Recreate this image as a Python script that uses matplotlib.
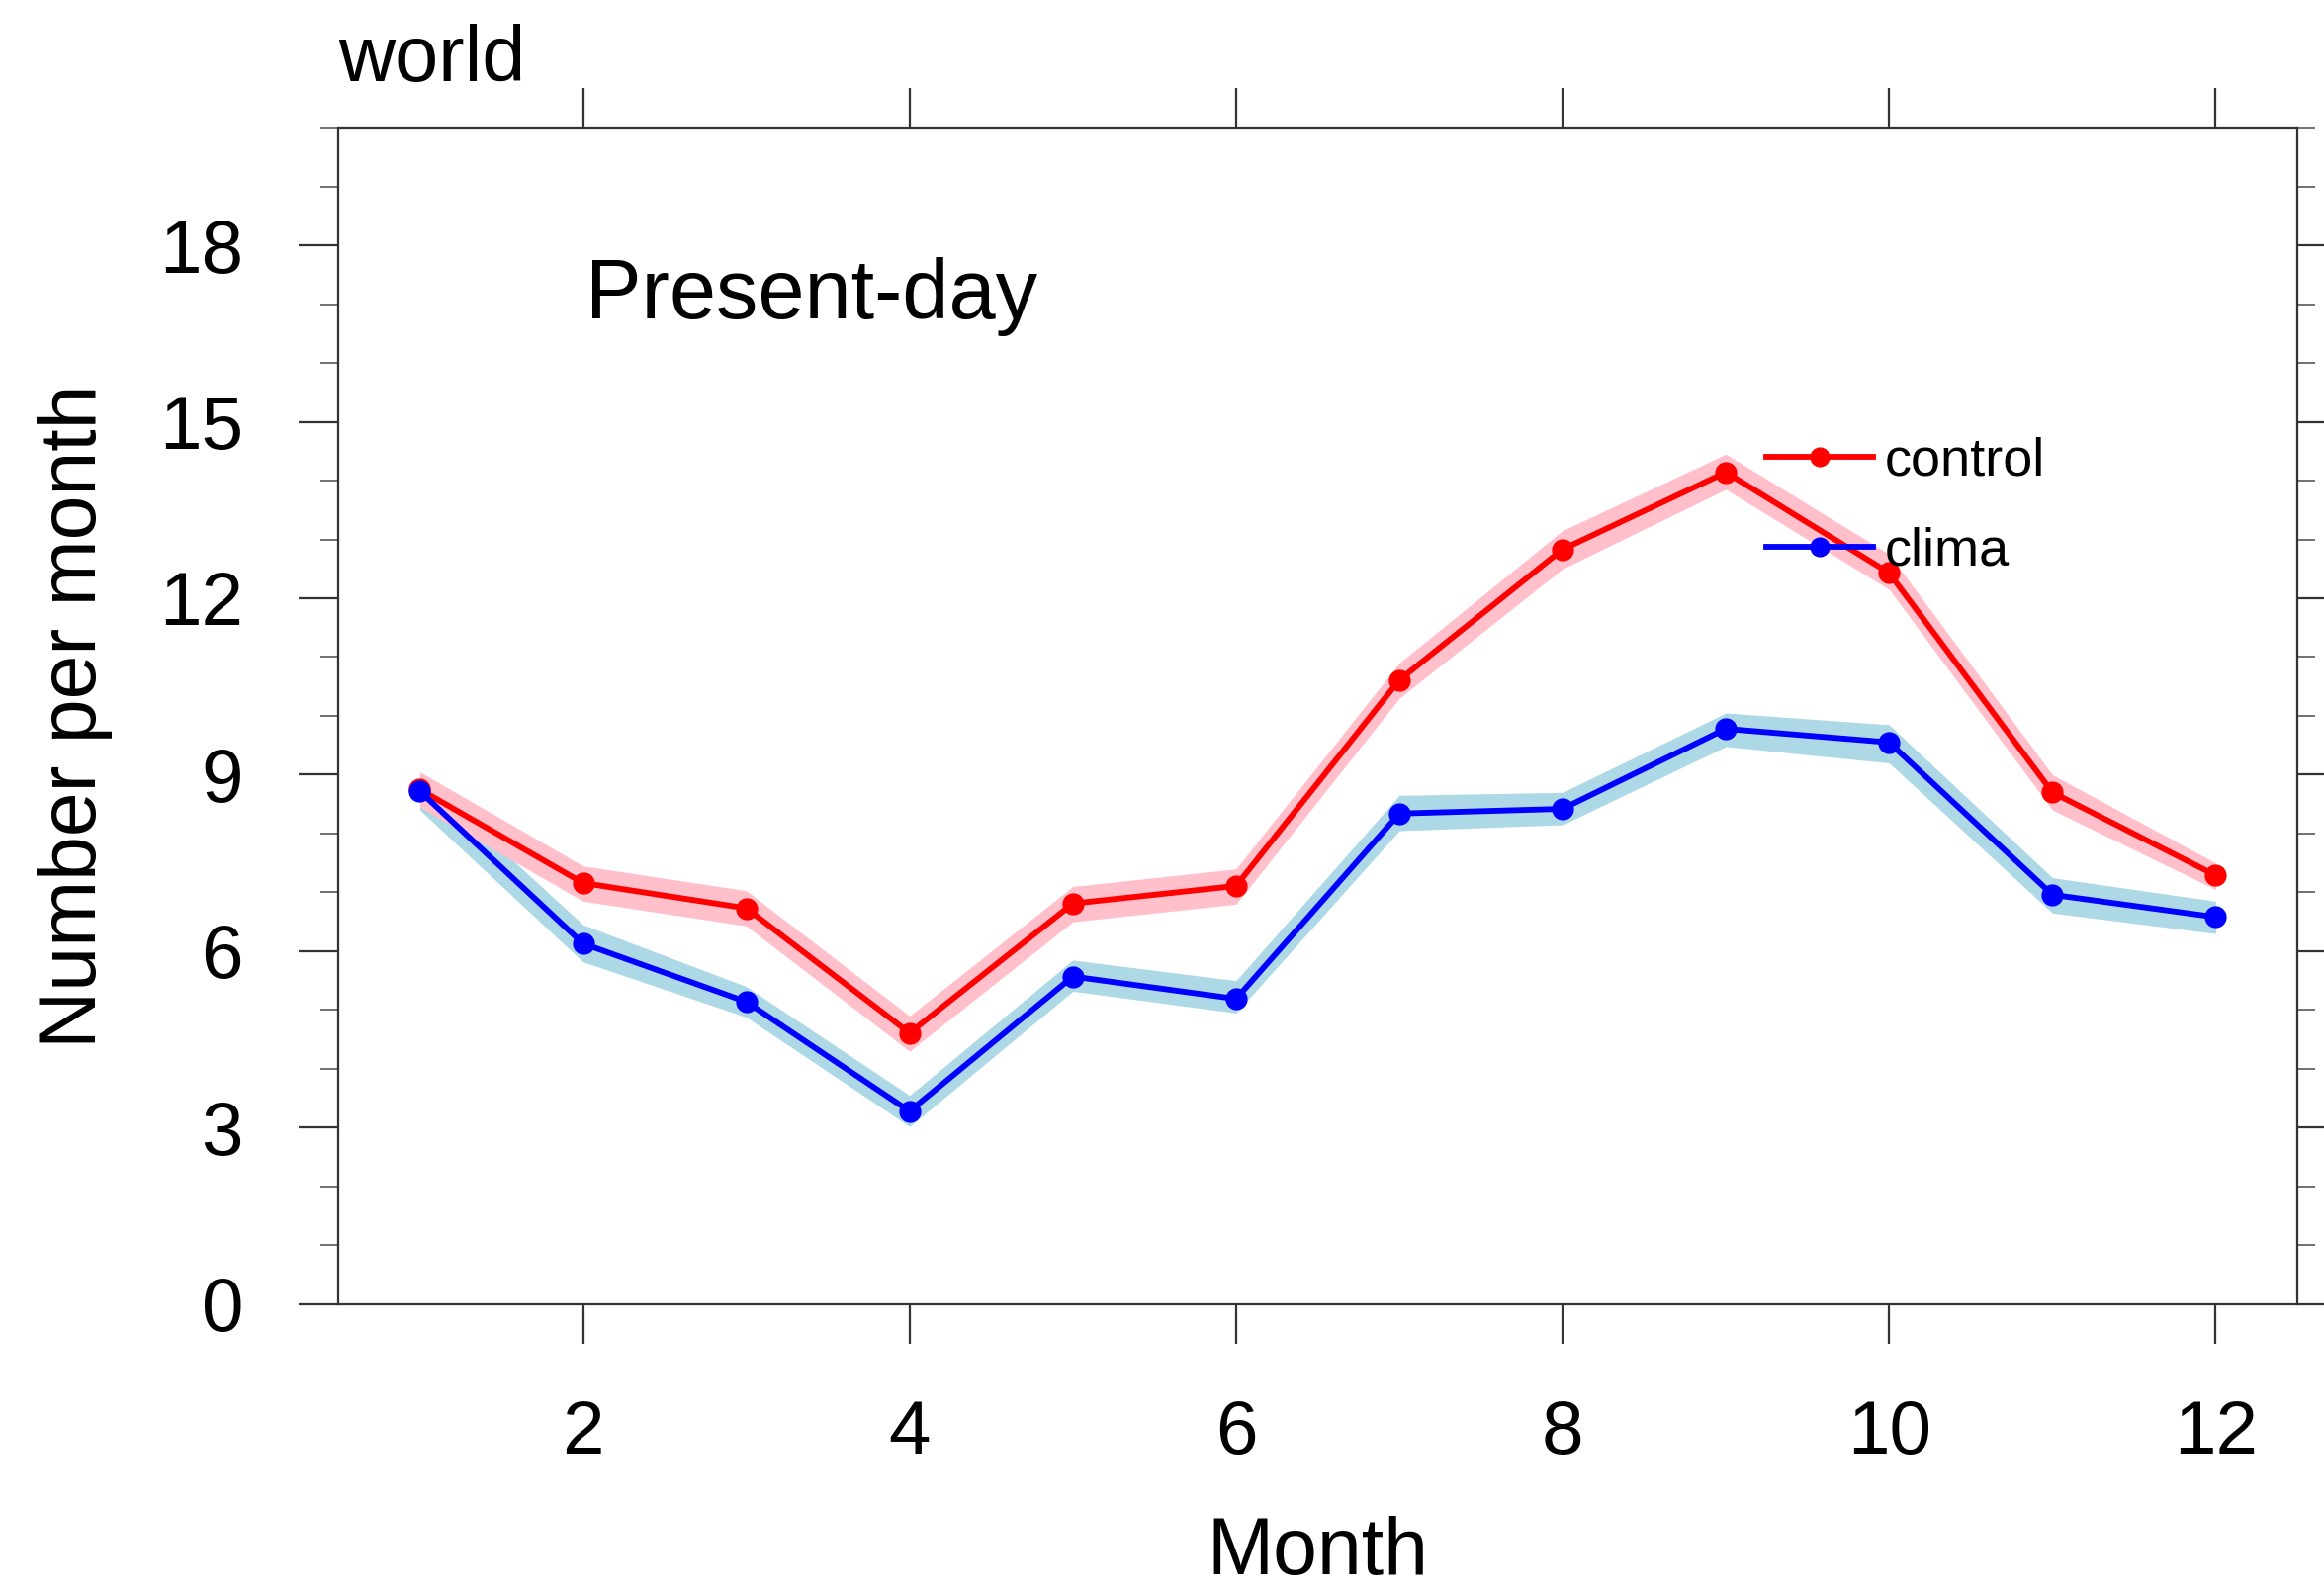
import matplotlib
matplotlib.use("Agg")
import matplotlib.pyplot as plt
from matplotlib.ticker import MultipleLocator

# monthly counts
months = [1, 2, 3, 4, 5, 6, 7, 8, 9, 10, 11, 12]
control = [8.75, 7.16, 6.73, 4.61, 6.81, 7.11, 10.61, 12.83, 14.14, 12.43, 8.70, 7.29]
control_lo = [8.45, 6.85, 6.43, 4.30, 6.50, 6.80, 10.30, 12.50, 13.85, 12.15, 8.40, 7.05]
control_hi = [9.05, 7.45, 7.03, 4.90, 7.10, 7.40, 10.90, 13.15, 14.45, 12.75, 9.00, 7.50]
clima = [8.72, 6.13, 5.14, 3.28, 5.57, 5.19, 8.34, 8.42, 9.78, 9.55, 6.96, 6.58]
clima_lo = [8.40, 5.82, 4.88, 3.02, 5.32, 4.95, 8.05, 8.15, 9.48, 9.20, 6.65, 6.30]
clima_hi = [9.00, 6.45, 5.40, 3.55, 5.85, 5.50, 8.65, 8.70, 10.05, 9.85, 7.25, 6.85]

plt.rcParams['font.family'] = ['Liberation Sans', 'DejaVu Sans']

fig = plt.figure(figsize=(23.5, 16.11), dpi=100)
ax = fig.add_axes([0.1455, 0.1813, 0.843, 0.7386])

# shaded spread
ax.fill_between(months, clima_lo, clima_hi, color='lightblue', lw=0, zorder=1)
ax.fill_between(months, control_lo, control_hi, color='pink', lw=0, zorder=2)

ax.plot(months, control, color='red', lw=4.2, marker='o', ms=15, label='control', zorder=3)
ax.plot(months, clima, color='blue', lw=4.2, marker='o', ms=15, label='clima', zorder=4)

ax.set_xlim(0.5, 12.5)
ax.set_ylim(0, 20)
ax.xaxis.set_major_locator(MultipleLocator(2))
ax.yaxis.set_major_locator(MultipleLocator(3))
ax.yaxis.set_minor_locator(MultipleLocator(1))

for s in ax.spines.values():
    s.set_linewidth(1.6)
    s.set_color('#333333')

ax.tick_params(axis='both', which='major', direction='out', length=29, width=1.6,
               color='#333333', labelsize=55, top=True, right=True)
ax.tick_params(axis='y', which='minor', direction='out', length=13, width=1.3,
               color='#666666', right=True)
ax.tick_params(axis='x', which='major', pad=40)
ax.tick_params(axis='y', which='major', pad=40)

ax.set_xlabel('Month', fontsize=58, labelpad=34)
ax.set_ylabel('Number per month', fontsize=58, labelpad=34)

ax.text(0.0, 1.0395, 'world', transform=ax.transAxes, ha='left', va='baseline', fontsize=57)
ax.text(0.126, 0.838, 'Present-day', transform=ax.transAxes, ha='left', va='baseline', fontsize=61)

ax.legend(loc='upper left', bbox_to_anchor=(0.729, 0.737), frameon=False, fontsize=39,
          handlelength=2.0, handletextpad=0.2, labelspacing=0.75, borderpad=0,
          borderaxespad=0, markerscale=0.9)

fig.savefig('out.png', dpi=100)
